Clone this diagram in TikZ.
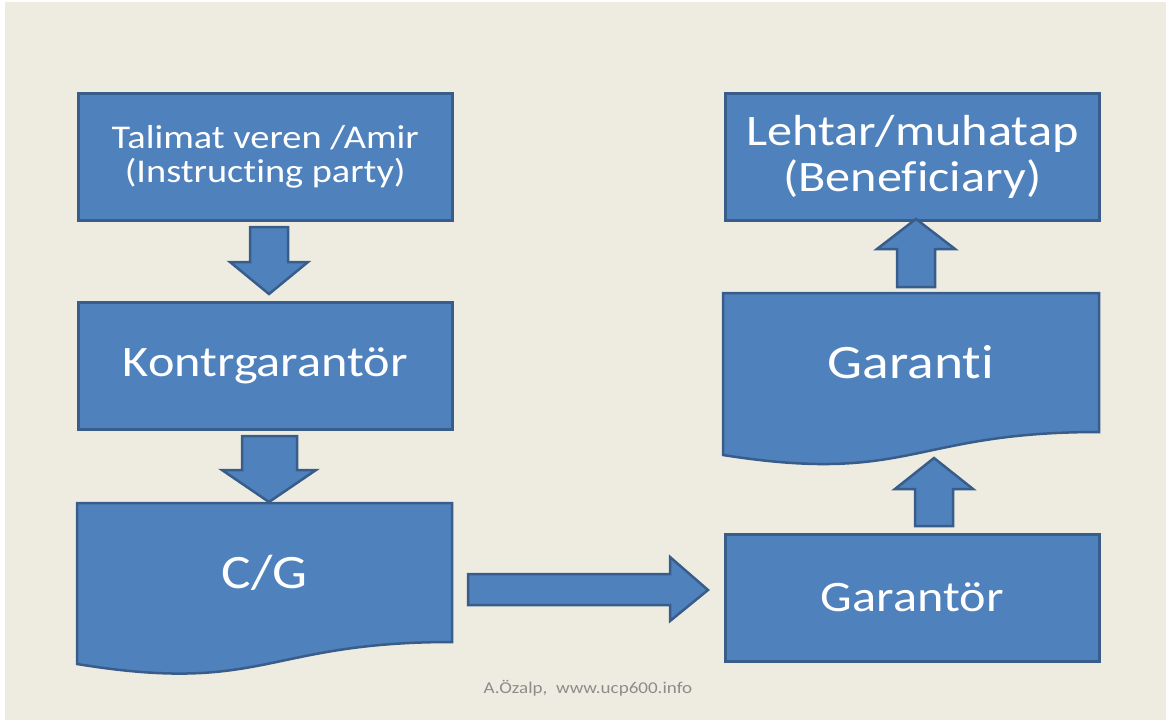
\documentclass[tikz,border=0pt]{standalone}
\usepackage{fontspec}
\setmainfont{Carlito}[FakeStretch=1.155,Ligatures={NoCommon,NoRare,NoDiscretionary},RawFeature={-liga;-dlig;-clig}]
\definecolor{bgtan}{HTML}{EEECE1}
\definecolor{fillb}{HTML}{4F81BD}
\definecolor{lineb}{HTML}{385D8A}
\definecolor{footgray}{HTML}{8C8C8C}
\begin{document}
\begin{tikzpicture}[x=1pt,y=-1pt,
  shapestyle/.style={fill=fillb,draw=lineb,line width=2.5pt,line join=miter},
  boxstyle/.style={shapestyle,text=white,align=center,inner sep=0pt,minimum width=374pt,minimum height=127pt,anchor=north west},
  doctext/.style={text=white,align=center,inner sep=0pt},
  bigfont/.style={font=\fontsize{48}{52}\selectfont},
  midfont/.style={font=\fontsize{43.5}{46}\selectfont},
  smallfont/.style={font=\fontsize{33.2}{34}\selectfont}]
\fill[white] (0,0) rectangle (1166,720);
\fill[bgtan] (5,2) rectangle (1166,720);
\useasboundingbox (0,0) rectangle (1166,720);

% boxes
\node[boxstyle,smallfont] (amir) at (77,92) {Talimat veren /Amir\\(Instructing party)};
\node[boxstyle,midfont] (kontr) at (77,301) {Kontrgarantör};
\node[boxstyle,midfont] (lehtar) at (724,92) {Lehtar/muhatap\\(Beneficiary)};
\node[boxstyle,midfont] (garantor) at (724,533) {Garantör};

% document shapes
\path[shapestyle] (77,503) -- (452,503) -- (452,642) .. controls (264.5,642) and (264.5,694.6) .. (77,664) -- cycle;
\node[doctext,bigfont] (cg) at (264.5,572.5) {C/G};
\path[shapestyle] (723,293) -- (1099,293) -- (1099,432) .. controls (911,432) and (911,484.6) .. (723,455) -- cycle;
\node[doctext,bigfont] (garanti) at (911,362.5) {Garanti};

% block arrows
\path[shapestyle] (250,227) -- (288,227) -- (288,262) -- (308,262) -- (269,294) -- (230,262) -- (250,262) -- cycle;
\path[shapestyle] (242,436) -- (297,436) -- (297,470) -- (316,470) -- (269,502) -- (222,470) -- (242,470) -- cycle;
\path[shapestyle] (468,574) -- (670,574) -- (670,557) -- (708,590) -- (670,621) -- (670,605) -- (468,605) -- cycle;
\path[shapestyle] (915,526) -- (953,526) -- (953,489) -- (973,489) -- (934,458) -- (895,489) -- (915,489) -- cycle;
\path[shapestyle] (897,287) -- (935,287) -- (935,249) -- (955,249) -- (916,219) -- (877,249) -- (897,249) -- cycle;

% footer
\node[text=footgray,font=\fontsize{16.5}{18}\selectfont,inner sep=0pt] (footer) at (588,688) {A.Özalp,~ www.ucp600.info};
\end{tikzpicture}
\end{document}
